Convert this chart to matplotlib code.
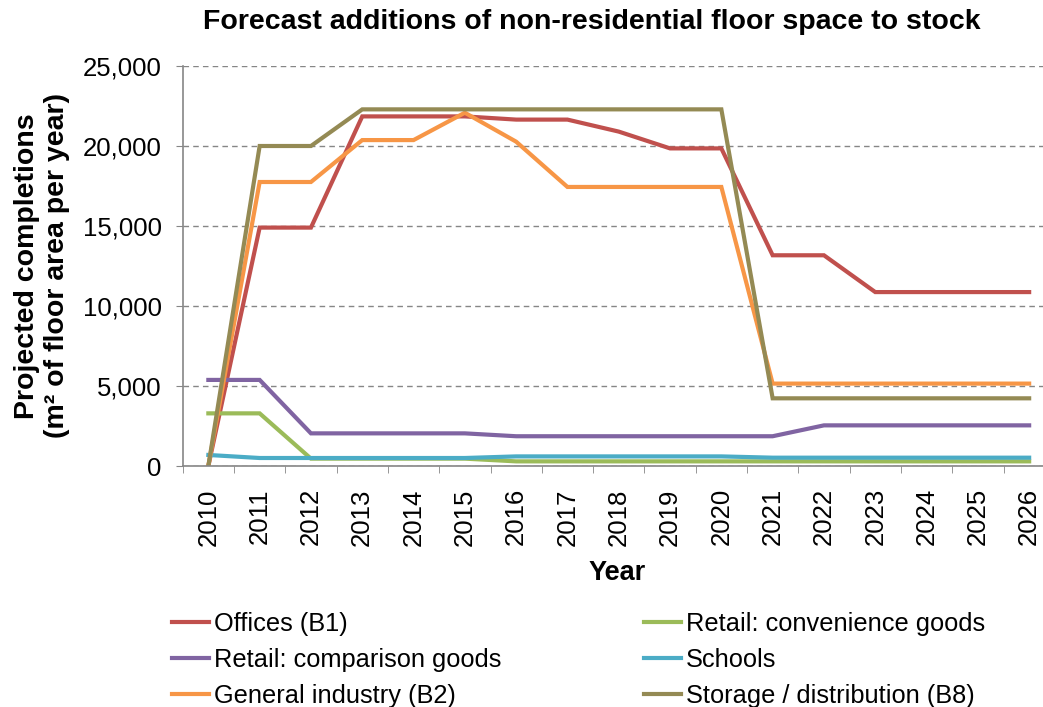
import matplotlib.pyplot as plt

plt.rcParams['font.family'] = ['Liberation Sans', 'DejaVu Sans']

years = [str(y) for y in range(2010, 2027)]

offices = [0, 14900, 14900, 21850, 21850, 21850, 21650, 21650, 20900, 19850, 19850,
           13170, 13170, 10870, 10870, 10870, 10870]
retail_conv = [3290, 3290, 460, 460, 460, 460, 290, 290, 290, 290, 290,
               290, 290, 290, 290, 290, 290]
retail_comp = [5380, 5380, 2040, 2040, 2040, 2040, 1860, 1860, 1860, 1860, 1860,
               1860, 2540, 2540, 2540, 2540, 2540]
schools = [690, 500, 500, 500, 500, 500, 600, 600, 600, 600, 600,
           520, 520, 520, 520, 520, 520]
general_industry = [0, 17750, 17750, 20370, 20370, 22080, 20270, 17440, 17440, 17440, 17440,
                    5150, 5150, 5150, 5150, 5150, 5150]
storage = [0, 20000, 20000, 22290, 22290, 22290, 22290, 22290, 22290, 22290, 22290,
           4230, 4230, 4230, 4230, 4230, 4230]

series = [
    ('Offices (B1)', offices, '#C0504D'),
    ('Retail: convenience goods', retail_conv, '#9BBB59'),
    ('Retail: comparison goods', retail_comp, '#8064A2'),
    ('Schools', schools, '#4BACC6'),
    ('General industry (B2)', general_industry, '#F79646'),
    ('Storage / distribution (B8)', storage, '#948A54'),
]

fig = plt.figure(figsize=(10.43, 7.07), dpi=100)
ax = fig.add_axes([182.7 / 1043, 1 - 466 / 707, 872.1 / 1043, 400 / 707])

x = list(range(len(years)))
handles = {}
for name, vals, col in series:
    ln, = ax.plot(x, vals, color=col, lw=3, solid_joinstyle='miter', label=name)
    handles[name] = ln

ax.set_xlim(-0.5, len(years) - 0.5)
ax.set_ylim(0, 25000)
ax.set_yticks(range(0, 25001, 5000))
ax.set_yticklabels(['{:,}'.format(v) for v in range(0, 25001, 5000)], fontsize=18.5)
ax.set_xticks(x)
ax.set_xticklabels(years, rotation=90, fontsize=18.5)
ax.set_xticks([i - 0.5 for i in range(len(years) + 1)], minor=True)
ax.tick_params(axis='x', which='major', length=0, pad=16)
ax.tick_params(axis='x', which='minor', length=5, color='#868686')
ax.tick_params(axis='y', length=5, color='#868686', pad=10)

ax.grid(axis='y', linestyle=(0, (4, 3)), color='#868686', lw=1)
ax.set_axisbelow(True)
for s in ['top', 'right']:
    ax.spines[s].set_visible(False)
for s in ['left', 'bottom']:
    ax.spines[s].set_color('#868686')
    ax.spines[s].set_linewidth(1.2)

fig.text(592 / 1043, 1 - 22 / 707, 'Forecast additions of non-residential floor space to stock',
         ha='center', va='center', fontsize=20.5, fontweight='bold')
fig.text(42 / 1043, 1 - 266 / 707, 'Projected completions\n(m² of floor area per year)',
         ha='center', va='center', rotation=90, fontsize=20.5, fontweight='bold',
         multialignment='center')
fig.text(617 / 1043, 1 - 573 / 707, 'Year', ha='center', va='center',
         fontsize=19.5, fontweight='bold')

order = ['Offices (B1)', 'Retail: comparison goods', 'General industry (B2)',
         'Retail: convenience goods', 'Schools', 'Storage / distribution (B8)']
fig.legend([handles[n] for n in order], order, ncol=2, frameon=False,
           loc='upper left', bbox_to_anchor=(172 / 1043, 1 - 612 / 707),
           prop={'size': 18.3},
           handlelength=1.45, handletextpad=0.2, columnspacing=5.6, labelspacing=0.47,
           borderaxespad=0, borderpad=0)

fig.savefig('out.png', dpi=100)
